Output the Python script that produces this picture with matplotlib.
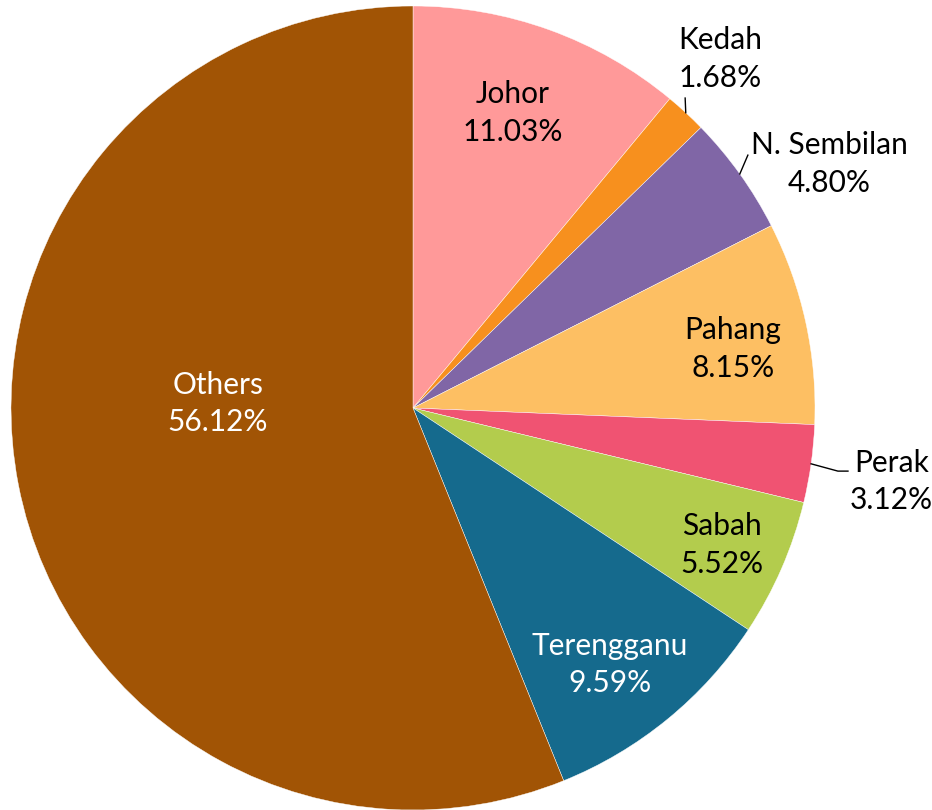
import numpy as np
import matplotlib
matplotlib.use("Agg")
import matplotlib.pyplot as plt

# State shares (percent), clockwise from 12 o'clock
states = ['Johor', 'Kedah', 'N. Sembilan', 'Pahang', 'Perak', 'Sabah', 'Terengganu', 'Others']
shares = [11.03, 1.68, 4.80, 8.15, 3.12, 5.52, 9.59, 56.12]
colors = ['#FF9999', '#F7901E', '#8066A6', '#FDBF63', '#F05372', '#B3CC4D', '#156A8D', '#A15405']
text_colors = ['black'] * 6 + ['white', 'white']

# label centres, in pie radii from the centre
label_pos = [(0.249, 0.734), (0.764, 0.868), (1.035, 0.607), (0.796, 0.147),
             (1.19, -0.182), (0.768, -0.341), (0.490, -0.639), (-0.485, 0.012)]
# leader lines for the labels outside the pie (end points)
leaders = {1: [(0.677, 0.771)],
           2: [(0.833, 0.629)],
           4: [(1.057, -0.157), (1.082, -0.157)]}

plt.rcParams['font.family'] = ['Lato', 'DejaVu Sans']

fig = plt.figure(figsize=(9.32, 8.10), dpi=100)
ax = fig.add_axes([0, 0, 1, 1])

wedges, _ = ax.pie(shares, colors=colors, startangle=90, counterclock=False,
                   radius=1, wedgeprops=dict(linewidth=0.3, edgecolor='white'))

for i, w in enumerate(wedges):
    x, y = label_pos[i]
    ax.text(x, y, f"{states[i]}\n{shares[i]:.2f}%", ha='center', va='center',
            fontsize=21.5, color=text_colors[i], linespacing=1.4)
    if i in leaders:
        mid = np.deg2rad((w.theta1 + w.theta2) / 2)
        pts = [(np.cos(mid), np.sin(mid))] + leaders[i]
        xs, ys = zip(*pts)
        ax.plot(xs, ys, color='black', lw=1)

ax.set_xlim(-413 / 402, 519 / 402)
ax.set_ylim(-402 / 402, 408 / 402)
ax.set_aspect('auto')
ax.axis('off')

fig.savefig('out.png', dpi=100)
